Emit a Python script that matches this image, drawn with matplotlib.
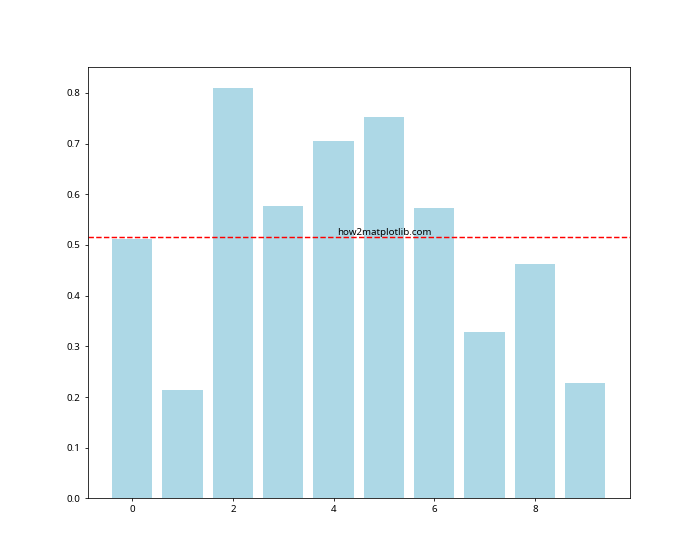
import numpy as np
import matplotlib
matplotlib.use('Agg')
import matplotlib.pyplot as plt

plt.rcParams['font.family'] = ['Noto Sans', 'DejaVu Sans']

categories = np.arange(10)
values = [0.512, 0.213, 0.810, 0.577, 0.705, 0.753, 0.573, 0.328, 0.462, 0.227]

fig, ax = plt.subplots(figsize=(10, 8), dpi=70)
ax.bar(categories, values, color='lightblue')
mean_val = np.mean(values)
ax.axhline(mean_val, color='r', linestyle='--')
ax.text(5, mean_val, 'how2matplotlib.com', ha='center', va='bottom')

plt.savefig('out.png')
